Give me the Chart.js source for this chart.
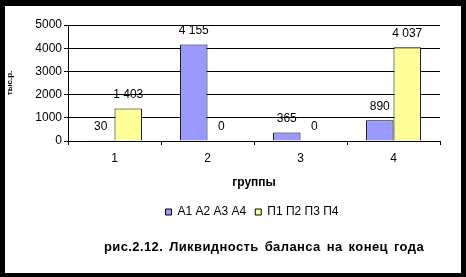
<!DOCTYPE html>
<html>
<head>
<meta charset="utf-8">
<script src="https://cdn.jsdelivr.net/npm/chart.js@4"></script>
<style>
  html, body { margin: 0; padding: 0; background: #000; overflow: hidden; }
  body { width: 466px; height: 277px; position: relative; font-family: "Liberation Sans", Arial, sans-serif; }
  #panel { position: absolute; left: 5px; top: 6px; width: 456px; height: 267px; background: #fff; }
  #wrap { position: absolute; left: 5px; top: 6px; width: 456px; height: 267px; }
  #caption { position: absolute; left: 80px; width: 368px; top: 239px; text-align: center;
             font: bold 13px "Liberation Sans", Arial, sans-serif; line-height: 15px; color: #000;
             white-space: nowrap; letter-spacing: 0.4px; word-spacing: 2px; }
</style>
</head>
<body>
<div id="panel"></div>
<div id="wrap"><canvas id="chart"></canvas></div>
<div id="caption">рис.2.12. Ликвидность баланса на конец года</div>
<script>
const categories = ['1', '2', '3', '4'];
const seriesNames = ['А1 А2 А3 А4', 'П1 П2 П3 П4'];
const assets = [30, 4155, 365, 890];
const liabilities = [1403, 0, 0, 4037];
const yMax = 5000;
const yStep = 1000;

function formatValue(v) {
    return String(v).replace(/\B(?=(\d{3})+(?!\d))/g, ' ');
}

// value labels above bars
const valueLabels = {
    id: 'valueLabels',
    afterDatasetsDraw(chart) {
        const ctx = chart.ctx;
        ctx.save();
        ctx.font = '12px "Liberation Sans", Arial, sans-serif';
        ctx.fillStyle = '#000';
        ctx.textAlign = 'center';
        ctx.textBaseline = 'middle';
        chart.data.datasets.forEach((ds, i) => {
            chart.getDatasetMeta(i).data.forEach((bar, j) => {
                ctx.fillText(formatValue(ds.data[j]), bar.x, bar.y - 14);
            });
        });
        ctx.restore();
    }
};

// center the legend under the plot area instead of the whole canvas
const legendUnderPlot = {
    id: 'legendUnderPlot',
    afterLayout(chart) {
        const lg = chart.legend;
        const area = chart.chartArea;
        const shift = (area.left + area.right) / 2 - (lg.left + lg.right) / 2 - 2;
        lg.left += shift;
        lg.right += shift;
    }
};

const font = { family: '"Liberation Sans", Arial, sans-serif', size: 12 };

new Chart(document.getElementById('chart'), {
    type: 'bar',
    data: {
        labels: categories,
        datasets: [{
            label: seriesNames[0],
            data: assets,
            backgroundColor: '#9999FF',
            borderColor: '#000',
            borderWidth: 1,
            categoryPercentage: 0.59,
            barPercentage: 1
        }, {
            label: seriesNames[1],
            data: liabilities,
            backgroundColor: '#FFFF99',
            borderColor: '#000',
            borderWidth: 1,
            categoryPercentage: 0.59,
            barPercentage: 1
        }]
    },
    options: {
        responsive: true,
        maintainAspectRatio: false,
        animation: false,
        devicePixelRatio: 1,
        layout: { padding: { top: 19, right: 21, bottom: 45, left: 0 } },
        plugins: {
            legend: {
                position: 'bottom',
                labels: { boxWidth: 6, boxHeight: 6, padding: 9, color: '#000', font: font }
            },
            tooltip: { enabled: false }
        },
        scales: {
            x: {
                grid: { drawOnChartArea: false, color: '#000', tickLength: 4 },
                border: { color: '#000' },
                ticks: { color: '#000', font: font, padding: 6 },
                title: { display: true, text: 'группы', color: '#000',
                         font: { family: font.family, size: 12, weight: 'bold' },
                         padding: { top: 0, bottom: 7 } },
                afterFit(scale) { scale.height = 56; }
            },
            y: {
                min: 0,
                max: yMax,
                grid: { color: '#000', tickLength: 4 },
                border: { color: '#000' },
                ticks: { stepSize: yStep, color: '#000', font: font, padding: 2,
                         callback: v => String(v) },
                title: { display: true, text: 'тыс.р.', color: '#000',
                         font: { family: font.family, size: 8, weight: 'bold' },
                         padding: { top: 0, bottom: 0 } },
                afterFit(scale) { scale.width = 63; }
            }
        }
    },
    plugins: [valueLabels, legendUnderPlot]
});
</script>
</body>
</html>
